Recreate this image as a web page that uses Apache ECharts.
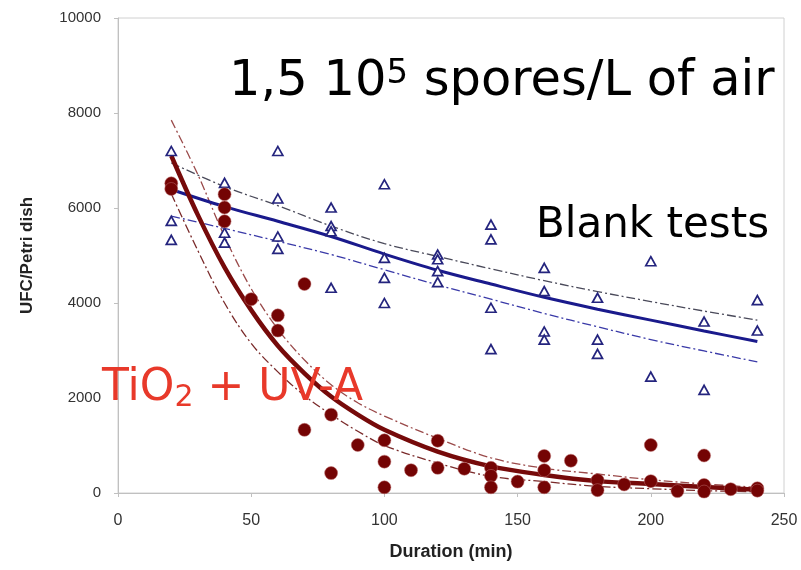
<!DOCTYPE html>
<html><head><meta charset="utf-8">
<script src="https://cdn.jsdelivr.net/npm/echarts@6/dist/echarts.min.js"></script>
<style>html,body{margin:0;padding:0;background:#fff}#c{width:801px;height:570px}</style>
</head><body><div id="c"></div>
<script>
// ---- data ----
const xTickValues = [0, 50, 100, 150, 200, 250];
const yTickValues = [0, 2000, 4000, 6000, 8000, 10000];

// Blank tests (hollow triangles)
const blankDur = [20,20,20, 40,40,40, 60,60,60,60, 80,80,80,80, 100,100,100,100, 120,120,120,120, 140,140,140,140, 160,160,160,160, 180,180,180, 200,200, 220,220, 240,240];
const blankUfc = [7200,5730,5330, 6530,5480,5270, 7200,6200,5400,5140, 6010,5620,5510,4320, 6500,4950,4530,4000, 5020,4920,4670,4440, 5650,5340,3900,3030, 4740,4250,3400,3230, 4110,3230,2930, 4880,2450, 3610,2170, 4060,3420];

// TiO2 + UV-A (filled circles)
const tioDur = [20,20, 40,40,40, 50, 60,60, 70,70, 80,80, 90, 100,100,100, 110, 120,120, 130, 140,140,140, 150, 160,160,160, 170, 180,180, 190, 200,200, 210, 220,220,220, 230, 240,240];
const tioUfc = [6520,6400, 6290,6010,5720, 4080, 3740,3420, 4400,1330, 1650,420, 1010, 1110,660,120, 480, 1100,530, 510, 530,360,120, 240, 780,480,120, 680, 270,60, 180, 1010,250, 40, 790,170,30, 80, 100,50];

// Blank fit and band
const blueFitDur = [20,40,60,80,100,120,140,160,180,200,220,240];
const blueFit    = [6390,6030,5720,5400,5030,4690,4400,4120,3870,3640,3410,3190];
const blueUpper  = [6950,6450,6050,5620,5250,4980,4720,4470,4240,4030,3830,3640];
const blueLower  = [5830,5570,5300,5020,4700,4380,4080,3780,3500,3230,2990,2760];

// TiO2 fit and band
const redFitDur = [20,30,40,50,60,70,80,90,100,120,140,160,180,200,220,240];
const redFit    = [7100,5850,4750,3850,3100,2520,2030,1650,1330,870,560,380,250,190,125,70];
const redUpper  = [7850,6700,5400,4300,3450,2800,2280,1900,1620,1150,740,520,400,280,190,120];
const redLower  = [6300,5100,4000,3150,2550,2050,1650,1300,1000,630,350,240,140,90,50,25];

const pairs = (xs, ys) => xs.map((x, i) => [x, ys[i]]);

const chart = echarts.init(document.getElementById('c'), null, {renderer: 'canvas'});
const dashDot = [9, 3, 2, 3];
const lineBase = {type: 'line', showSymbol: false, smooth: 0.35, silent: true};
const bigFont = 'DejaVu Sans';

chart.setOption({
  animation: false,
  backgroundColor: '#fff',
  grid: {left: 118, right: 17, top: 18, bottom: 77, show: true, borderColor: '#d0d0d0', borderWidth: 1},
  xAxis: {
    type: 'value', min: xTickValues[0], max: xTickValues[xTickValues.length - 1], interval: 50,
    name: 'Duration (min)', nameLocation: 'middle', nameGap: 50,
    nameTextStyle: {fontFamily: 'Liberation Sans', fontWeight: 'bold', fontSize: 18, color: '#222'},
    axisLine: {show: true, lineStyle: {color: '#c0c0c0'}},
    axisTick: {show: true, length: 4, lineStyle: {color: '#c0c0c0'}},
    axisLabel: {fontFamily: 'Liberation Sans', fontSize: 16, color: '#333', margin: 20},
    splitLine: {show: false}
  },
  yAxis: {
    type: 'value', min: yTickValues[0], max: yTickValues[yTickValues.length - 1], interval: 2000,
    name: 'UFC/Petri dish', nameLocation: 'middle', nameGap: 82,
    nameTextStyle: {fontFamily: 'Liberation Sans', fontWeight: 'bold', fontSize: 17, color: '#222'},
    axisLine: {show: true, lineStyle: {color: '#c0c0c0'}},
    axisTick: {show: true, length: 4, lineStyle: {color: '#c0c0c0'}},
    axisLabel: {fontFamily: 'Liberation Sans', fontSize: 15, color: '#333', margin: 17, formatter: v => String(v)},
    splitLine: {show: false}
  },
  series: [
    Object.assign({}, lineBase, {name: 'blankUpper', data: pairs(blueFitDur, blueUpper), lineStyle: {color: '#4a4a5a', width: 1.3, type: dashDot}, z: 2}),
    Object.assign({}, lineBase, {name: 'blankLower', data: pairs(blueFitDur, blueLower), lineStyle: {color: '#3a3aa8', width: 1.3, type: dashDot}, z: 2}),
    Object.assign({}, lineBase, {name: 'blankFit', data: pairs(blueFitDur, blueFit), lineStyle: {color: '#1a1a8c', width: 3}, z: 3}),
    Object.assign({}, lineBase, {name: 'tioUpper', data: pairs(redFitDur, redUpper), lineStyle: {color: '#9a4a4a', width: 1.3, type: dashDot}, z: 2}),
    Object.assign({}, lineBase, {name: 'tioLower', data: pairs(redFitDur, redLower), lineStyle: {color: '#7a2a2a', width: 1.3, type: dashDot}, z: 2}),
    Object.assign({}, lineBase, {name: 'tioFit', data: pairs(redFitDur, redFit), lineStyle: {color: '#760a0a', width: 4.5}, z: 3}),
    {
      name: 'Blank tests', type: 'scatter', symbol: 'triangle', symbolSize: [10, 9],
      data: pairs(blankDur, blankUfc),
      itemStyle: {color: '#ffffff', borderColor: '#24247e', borderWidth: 1.7, opacity: 1}, z: 4
    },
    {
      name: 'TiO2 + UV-A', type: 'scatter', symbol: 'circle', symbolSize: 13,
      data: pairs(tioDur, tioUfc),
      itemStyle: {color: '#740404', borderColor: 'rgba(190,110,110,0.5)', borderWidth: 1, opacity: 1}, z: 5
    }
  ],
  graphic: [
    {
      type: 'text', left: 229, top: 57, z: 10,
      style: {
        text: '1,5 10{sup|5} spores/L of air',
        fontFamily: bigFont, fontSize: 49.5, fill: '#000',
        rich: {sup: {fontFamily: bigFont, fontSize: 34, fill: '#000', verticalAlign: 'top'}}
      }
    },
    {
      type: 'text', left: 536, top: 205, z: 10,
      style: {text: 'Blank tests', fontFamily: bigFont, fontSize: 42, fill: '#000'}
    },
    {
      type: 'text', left: 102, top: 367, z: 10,
      style: {
        text: 'TiO{sub|2} + UV-A',
        fontFamily: bigFont, fontSize: 44, fill: '#e8392a',
        rich: {sub: {fontFamily: bigFont, fontSize: 30, fill: '#e8392a', verticalAlign: 'bottom', padding: [18, 0, 0, 0]}}
      }
    }
  ]
});
</script>
</body></html>
